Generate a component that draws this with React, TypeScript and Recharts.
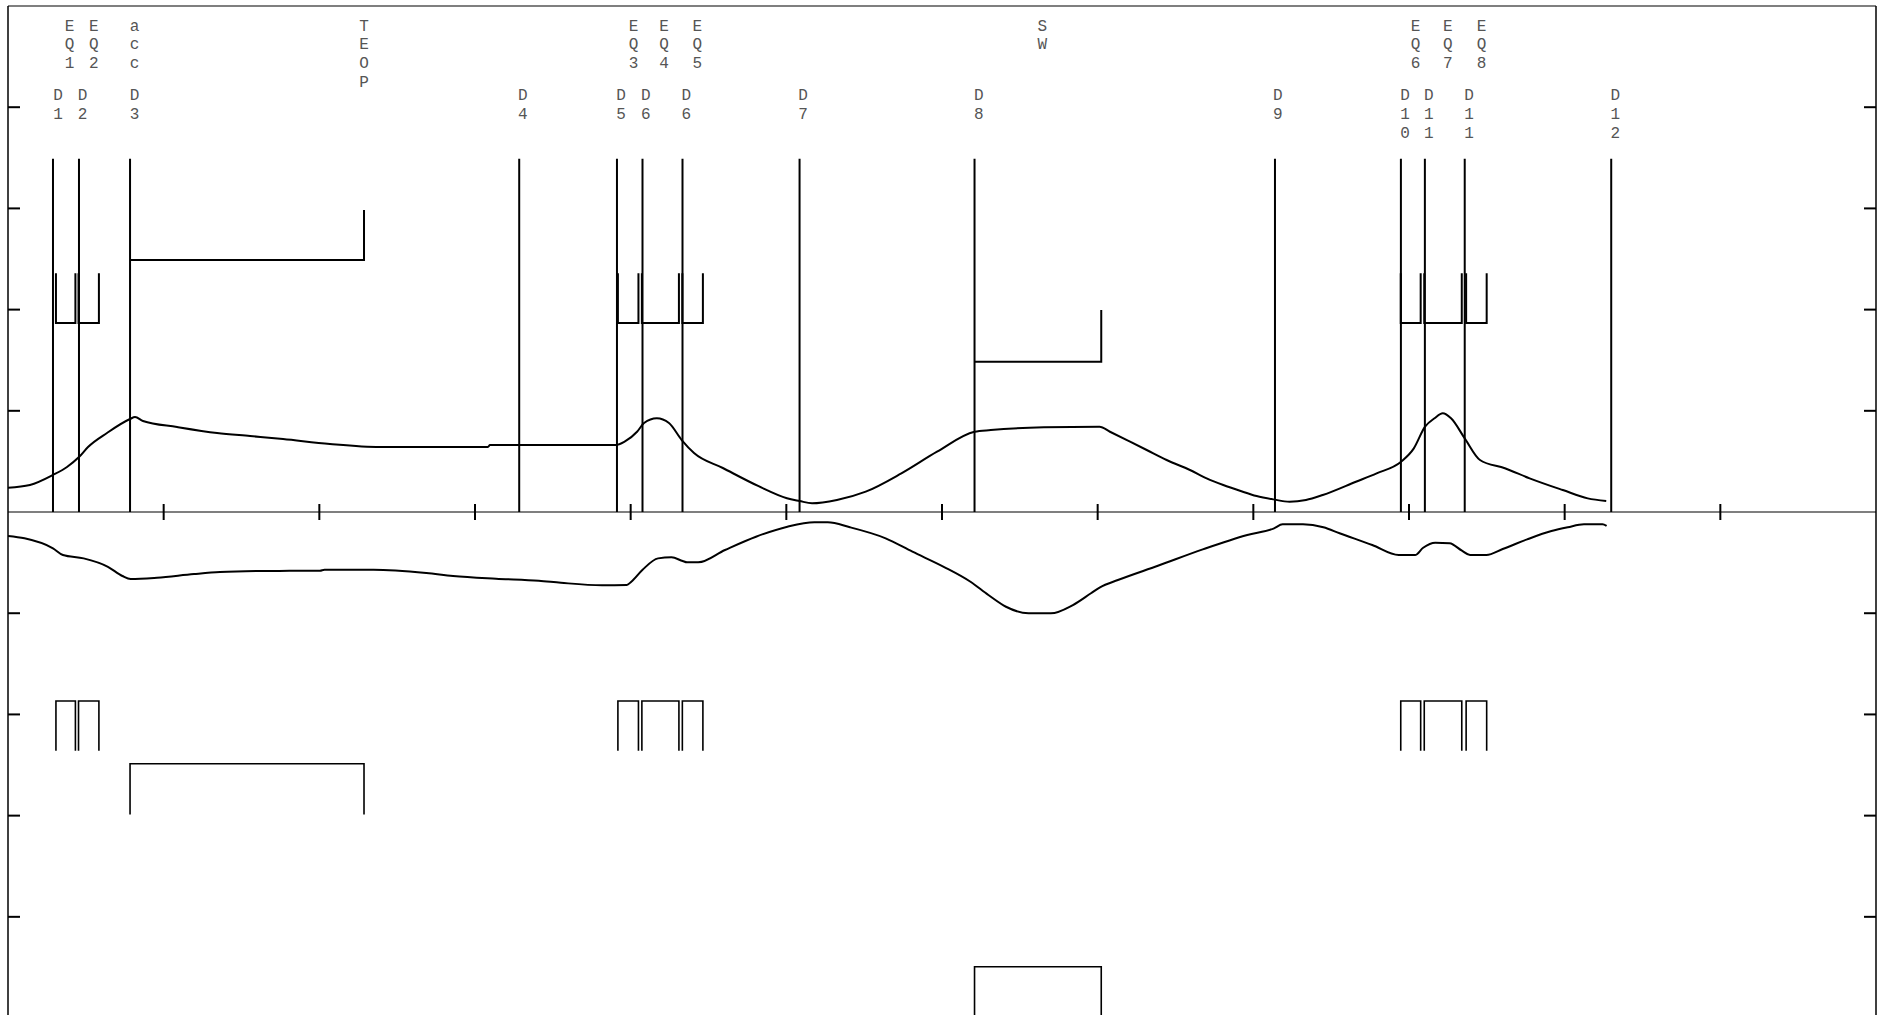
import { ComposedChart, Line, XAxis, YAxis, ReferenceLine, Scatter } from "recharts";

const W = 1889;
const H = 1015;
const Y_MAX = 5;
const Y_MIN = -4.97;

// beam envelope, upper (positive) and lower (mirrored) planes
const betaUpper: [number, number][] = [
  [0, 0.24], [0.141, 0.267], [0.289, 0.366], [0.379, 0.445], [0.456, 0.543], [0.514, 0.642],
  [0.636, 0.781], [0.784, 0.919], [0.816, 0.939], [0.867, 0.899], [1.086, 0.84], [1.343, 0.781],
  [1.555, 0.751], [1.767, 0.721], [2.068, 0.672], [2.39, 0.642], [3.083, 0.642], [3.096, 0.662],
  [3.904, 0.662], [3.961, 0.695], [4.041, 0.793], [4.086, 0.879], [4.168, 0.926], [4.246, 0.879],
  [4.328, 0.711], [4.407, 0.583], [4.592, 0.435], [4.822, 0.255], [5.004, 0.136], [5.085, 0.109],
  [5.165, 0.086], [5.325, 0.119], [5.51, 0.201], [5.739, 0.382], [5.968, 0.596], [6.209, 0.793],
  [6.313, 0.81], [6.655, 0.837], [7.012, 0.843], [7.079, 0.793], [7.208, 0.695], [7.315, 0.613],
  [7.443, 0.514], [7.593, 0.415], [7.7, 0.333], [7.807, 0.267], [7.914, 0.21], [8.021, 0.158],
  [8.128, 0.125], [8.233, 0.102], [8.338, 0.119], [8.446, 0.168], [8.659, 0.299], [8.792, 0.382],
  [8.949, 0.497], [9.031, 0.629], [9.103, 0.843], [9.164, 0.926], [9.217, 0.975], [9.27, 0.926],
  [9.358, 0.728], [9.456, 0.514], [9.616, 0.432], [9.775, 0.333], [9.988, 0.217], [10.148, 0.135],
  [10.267, 0.109],
];

const betaLower: [number, number][] = [
  [0, -0.237], [0.106, -0.26], [0.289, -0.359], [0.353, -0.425], [0.486, -0.458], [0.642, -0.541],
  [0.735, -0.632], [0.788, -0.662], [0.957, -0.649], [1.195, -0.613], [1.362, -0.593], [1.612, -0.583],
  [2.004, -0.58], [2.033, -0.57], [2.348, -0.57], [2.688, -0.603], [2.859, -0.632], [3.135, -0.659],
  [3.41, -0.679], [3.552, -0.699], [3.816, -0.724], [3.975, -0.721], [4.004, -0.689], [4.075, -0.573],
  [4.176, -0.458], [4.262, -0.448], [4.334, -0.484], [4.362, -0.497], [4.434, -0.497], [4.606, -0.375],
  [4.805, -0.244], [5.007, -0.145], [5.18, -0.102], [5.266, -0.102], [5.409, -0.151], [5.638, -0.26],
  [5.81, -0.392], [6.011, -0.541], [6.183, -0.689], [6.298, -0.82], [6.411, -0.936], [6.556, -1.001],
  [6.699, -1.001], [6.841, -0.919], [6.957, -0.803], [7.015, -0.744], [7.13, -0.672], [7.387, -0.531],
  [7.675, -0.369], [7.961, -0.227], [8.133, -0.161], [8.188, -0.122], [8.319, -0.122], [8.45, -0.151],
  [8.554, -0.21], [8.764, -0.326], [8.934, -0.425], [9.039, -0.425], [9.091, -0.353], [9.169, -0.303],
  [9.261, -0.309], [9.34, -0.382], [9.392, -0.425], [9.497, -0.425], [9.602, -0.366], [9.759, -0.27],
  [9.915, -0.188], [10.02, -0.151], [10.124, -0.122], [10.243, -0.122], [10.269, -0.138],
];

// dipoles
const dipoleX = [0.289, 0.456, 0.784, 3.284, 3.912, 4.076, 4.333, 5.085, 6.209, 8.139, 8.948, 9.102, 9.358, 10.299];
const DIPOLE_TOP = 3.49;

// quadrupoles
const quadStart = [0.308, 0.453, 3.918, 4.072, 4.332, 8.947, 9.098, 9.367];
const quadEnd = [0.433, 0.584, 4.05, 4.31, 4.464, 9.075, 9.339, 9.499];
const QUAD_NEAR = 1.868;
const QUAD_FAR = 2.36;

// acc -> TEOP and SW blocks
const ACC_X = 0.784;
const TEOP_X = 2.287;
const accLevels = { upper: [2.49, 2.984], lower: [-2.488, -2.988] };
const SW_START = 6.209;
const SW_END = 7.023;
const swLevels = { upper: [1.485, 1.996], lower: [-4.493, -5] };

// labels (x = text centre)
const topLabelX = [0.395, 0.552, 0.813, 2.287, 4.018, 4.214, 4.428, 6.645, 9.042, 9.25, 9.466];
const topLabelText = ["EQ1", "EQ2", "acc", "TEOP", "EQ3", "EQ4", "EQ5", "SW", "EQ6", "EQ7", "EQ8"];
const TOP_LABEL_Y = 4.812;
const dLabelX = [0.321, 0.479, 0.813, 3.307, 3.938, 4.098, 4.358, 5.107, 6.236, 8.158, 8.974, 9.128, 9.385, 10.326];
const dLabelText = ["D1", "D2", "D3", "D4", "D5", "D6", "D6", "D7", "D8", "D9", "D10", "D11", "D11", "D12"];
const D_LABEL_Y = 4.121;

const xTicks = [1, 2, 3, 4, 5, 6, 7, 8, 9, 10, 11];
const yTicks = [-4, -3, -2, -1, 1, 2, 3, 4];

const X_TICK_HALF = 0.079;
const Y_TICK_LEN = 0.077;
const LINE_STEP = 18.8;

const toPts = (arr: [number, number][]) => arr.map(([x, y]) => ({ x, y }));

function quadPath(sign: number) {
  const pts: { x: number; y: number | null }[] = [];
  quadStart.forEach((a, i) => {
    const b = quadEnd[i];
    pts.push(
      { x: a, y: sign * QUAD_FAR },
      { x: a, y: sign * QUAD_NEAR },
      { x: b, y: sign * QUAD_NEAR },
      { x: b, y: sign * QUAD_FAR },
      { x: b, y: null },
    );
  });
  return pts;
}

const accUpper = [
  { x: ACC_X, y: accLevels.upper[0] },
  { x: TEOP_X, y: accLevels.upper[0] },
  { x: TEOP_X, y: accLevels.upper[1] },
];
const accLower = [
  { x: ACC_X, y: accLevels.lower[1] },
  { x: ACC_X, y: accLevels.lower[0] },
  { x: TEOP_X, y: accLevels.lower[0] },
  { x: TEOP_X, y: accLevels.lower[1] },
];
const swUpper = [
  { x: SW_START, y: swLevels.upper[0] },
  { x: SW_END, y: swLevels.upper[0] },
  { x: SW_END, y: swLevels.upper[1] },
];
const swLower = [
  { x: SW_START, y: swLevels.lower[1] },
  { x: SW_START, y: swLevels.lower[0] },
  { x: SW_END, y: swLevels.lower[0] },
  { x: SW_END, y: swLevels.lower[1] },
];

const labelPts = [
  ...topLabelX.map((x, i) => ({ x, y: TOP_LABEL_Y, text: topLabelText[i] })),
  ...dLabelX.map((x, i) => ({ x, y: D_LABEL_Y, text: dLabelText[i] })),
];

function StackLabel(props: any) {
  const { cx, cy, payload } = props;
  if (cx == null || cy == null) return null;
  const chars = String(payload.text).split("");
  return (
    <text textAnchor="middle" fontFamily="'Liberation Mono', monospace" fontSize={16} fill="#555">
      {chars.map((c, i) => (
        <tspan key={i} x={cx} y={cy + 5.5 + i * LINE_STEP}>
          {c}
        </tspan>
      ))}
    </text>
  );
}

const ink = "#000";

export default function App() {
  return (
    <div style={{ position: "absolute", left: 0, top: 0, width: W, height: H, background: "#fff", overflow: "hidden" }}>
      <ComposedChart width={W} height={H} margin={{ top: 6, right: 13, bottom: 0, left: 8 }}>
        <XAxis type="number" dataKey="x" domain={[0, 12]} hide allowDataOverflow />
        <YAxis type="number" domain={[Y_MIN, Y_MAX]} hide allowDataOverflow />

        {/* frame */}
        <ReferenceLine x={0} stroke={ink} strokeWidth={1.5} />
        <ReferenceLine x={12} stroke={ink} strokeWidth={1.5} />
        <ReferenceLine y={Y_MAX} stroke={ink} strokeWidth={1.2} />
        <ReferenceLine y={0} stroke={ink} strokeWidth={1.2} />

        {xTicks.map((t) => (
          <ReferenceLine key={`xt${t}`} segment={[{ x: t, y: -X_TICK_HALF }, { x: t, y: X_TICK_HALF }]} stroke={ink} strokeWidth={2} />
        ))}
        {yTicks.map((t) => (
          <ReferenceLine key={`yl${t}`} segment={[{ x: 0, y: t }, { x: Y_TICK_LEN, y: t }]} stroke={ink} strokeWidth={2} />
        ))}
        {yTicks.map((t) => (
          <ReferenceLine key={`yr${t}`} segment={[{ x: 12 - Y_TICK_LEN, y: t }, { x: 12, y: t }]} stroke={ink} strokeWidth={2} />
        ))}

        {dipoleX.map((d, i) => (
          <ReferenceLine key={`d${i}`} segment={[{ x: d, y: 0 }, { x: d, y: DIPOLE_TOP }]} stroke={ink} strokeWidth={2} />
        ))}

        <Line data={quadPath(1)} dataKey="y" type="linear" stroke={ink} strokeWidth={2} dot={false} isAnimationActive={false} />
        <Line data={quadPath(-1)} dataKey="y" type="linear" stroke={ink} strokeWidth={1.6} dot={false} isAnimationActive={false} />
        <Line data={accUpper} dataKey="y" type="linear" stroke={ink} strokeWidth={2} dot={false} isAnimationActive={false} />
        <Line data={accLower} dataKey="y" type="linear" stroke={ink} strokeWidth={1.6} dot={false} isAnimationActive={false} />
        <Line data={swUpper} dataKey="y" type="linear" stroke={ink} strokeWidth={2} dot={false} isAnimationActive={false} />
        <Line data={swLower} dataKey="y" type="linear" stroke={ink} strokeWidth={1.6} dot={false} isAnimationActive={false} />

        <Line data={toPts(betaUpper)} dataKey="y" type="monotone" stroke={ink} strokeWidth={2} dot={false} isAnimationActive={false} />
        <Line data={toPts(betaLower)} dataKey="y" type="monotone" stroke={ink} strokeWidth={2} dot={false} isAnimationActive={false} />

        <Scatter data={labelPts} dataKey="y" shape={(p: any) => <StackLabel {...p} />} isAnimationActive={false} />
      </ComposedChart>
    </div>
  );
}
